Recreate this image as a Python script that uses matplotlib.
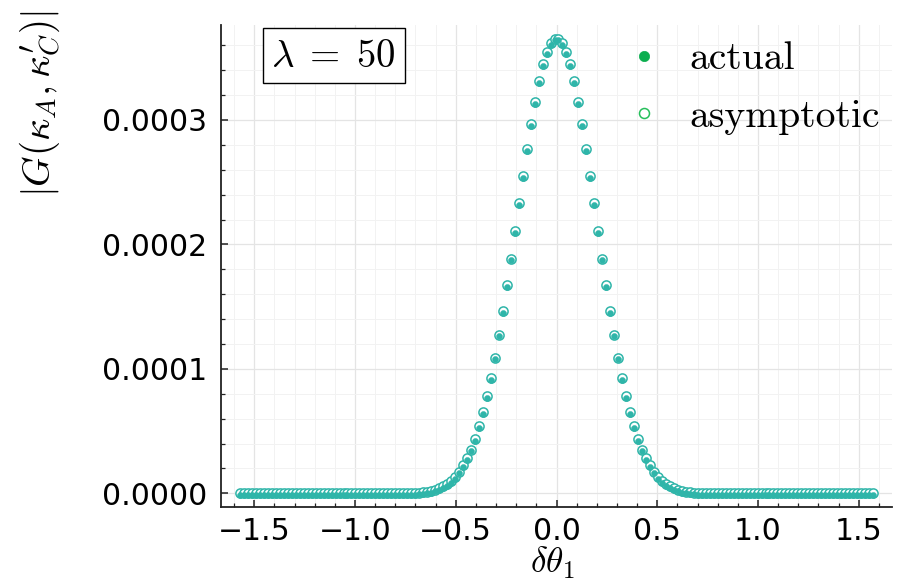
import numpy as np
import matplotlib
matplotlib.use("Agg")
import matplotlib.pyplot as plt
from matplotlib.lines import Line2D
from matplotlib.ticker import MultipleLocator, FuncFormatter
from matplotlib.transforms import ScaledTranslation

plt.rcParams['mathtext.fontset'] = 'cm'

# ---- data ----
n_points = 160
delta_theta = np.linspace(-np.pi / 2, np.pi / 2, n_points)

# |G| values in units of 1e-4, left to right
G_actual_e4 = [
    0, 0, 0, 0, 0, 0, 0, 0, 0, 0, 0, 0, 0, 0, 0, 0, 0, 0, 0, 0,
    0, 0, 0, 0, 0, 0, 0, 0, 0, 0, 0, 0, 0, 0, 0, 0, 0, 0, 0, 0,
    0, 0,
    0.001, 0.002, 0.004, 0.006, 0.009, 0.014, 0.021, 0.030, 0.042, 0.057,
    0.076, 0.101, 0.133, 0.175, 0.225, 0.281, 0.352, 0.437, 0.539, 0.652,
    0.781, 0.928, 1.091, 1.275, 1.463, 1.670, 1.886, 2.106, 2.330, 2.547,
    2.766, 2.968, 3.145, 3.309, 3.446, 3.547, 3.619, 3.653,
    3.653, 3.619, 3.547, 3.446, 3.309, 3.145, 2.968, 2.766,
    2.547, 2.330, 2.106, 1.886, 1.670, 1.463, 1.275, 1.091, 0.928, 0.781,
    0.652, 0.539, 0.437, 0.352, 0.281, 0.225, 0.175, 0.133, 0.101, 0.076,
    0.057, 0.042, 0.030, 0.021, 0.014, 0.009, 0.006, 0.004, 0.002, 0.001,
    0, 0,
    0, 0, 0, 0, 0, 0, 0, 0, 0, 0, 0, 0, 0, 0, 0, 0, 0, 0, 0, 0,
    0, 0, 0, 0, 0, 0, 0, 0, 0, 0, 0, 0, 0, 0, 0, 0, 0, 0, 0, 0,
]
G_asymptotic_e4 = list(G_actual_e4)

G_actual = np.array(G_actual_e4) * 1e-4
G_asymptotic = np.array(G_asymptotic_e4) * 1e-4

series_labels = ["actual", "asymptotic"]
annotation = r"$\lambda\;=\;50$"
x_ticks = [-1.5, -1.0, -0.5, 0.0, 0.5, 1.0, 1.5]
y_ticks = [0.0, 0.0001, 0.0002, 0.0003]

# ---- styling ----
teal = "#2fb5a9"
green_fill = "#0bae4f"
green_ring = "#26bf5b"

fig = plt.figure(figsize=(9.02, 5.83), dpi=100)
ax = fig.add_axes([221 / 902, 76 / 583, 671 / 902, 482 / 583])

ax.set_xlim(-np.pi / 2 * 1.06, np.pi / 2 * 1.06)
ymax = max(G_asymptotic.max(), G_actual.max())
ax.set_ylim(-0.03 * ymax, 1.03 * ymax)

ax.plot(delta_theta, G_asymptotic, linestyle="none", marker="o", ms=6.6,
        mfc="white", mec=teal, mew=1.1, zorder=3)
offset = ax.transData + ScaledTranslation(0, -1.8 / 100, fig.dpi_scale_trans)
ax.plot(delta_theta, G_actual, linestyle="none", marker="o", ms=4.4,
        mfc=teal, mec=teal, mew=0.3, zorder=4, transform=offset)

ax.set_xticks(x_ticks)
ax.set_yticks(y_ticks)
ax.xaxis.set_major_formatter(FuncFormatter(lambda v, p: f"{v:.1f}".replace("-", "\u2212")))
ax.yaxis.set_major_formatter(FuncFormatter(lambda v, p: f"{v:.4f}"))
ax.xaxis.set_minor_locator(MultipleLocator(0.1))
ax.yaxis.set_minor_locator(MultipleLocator(0.00002))

ax.grid(which="major", color="#e4e4e4", linewidth=0.9, zorder=0)
ax.grid(which="minor", color="#f2f2f2", linewidth=0.7, zorder=0)
ax.set_axisbelow(True)

for side in ["top", "right"]:
    ax.spines[side].set_visible(False)
for side in ["left", "bottom"]:
    ax.spines[side].set_color("#222222")
    ax.spines[side].set_linewidth(1.3)

ax.tick_params(which="major", direction="in", length=5, width=1.1,
               labelsize=21.5, pad=7, color="#222222")
ax.tick_params(which="minor", direction="in", length=3, width=0.9,
               color="#222222")
ax.tick_params(axis="y", pad=10)

fig.text(552 / 902, 1 - 581 / 583, r"$\delta\theta_1$", fontsize=25.5,
         ha="center", va="bottom")
fig.text(40 / 902, 1 - 104 / 583, r"$|G(\kappa_A,\kappa_C^{\prime})|$",
         fontsize=28, rotation=90, ha="center", va="center")

ax.text(0.168, 0.936, annotation, transform=ax.transAxes, fontsize=28,
        ha="center", va="center",
        bbox=dict(boxstyle="square,pad=0.22", fc="white", ec="black", lw=1.0))

handles = [
    Line2D([], [], linestyle="none", marker="o", ms=7.4, mfc=green_fill,
           mec=green_fill, mew=0.5),
    Line2D([], [], linestyle="none", marker="o", ms=7.2, mfc="white",
           mec=green_ring, mew=1.1),
]
leg = ax.legend(handles, series_labels, loc="upper right",
                bbox_to_anchor=(1.017, 1.015), frameon=False,
                prop={"family": "cmr10", "size": 28.5},
                handletextpad=-0.1, labelspacing=0.55, borderaxespad=0.2,
                handlelength=2.5)

fig.savefig("out.png", dpi=100)
